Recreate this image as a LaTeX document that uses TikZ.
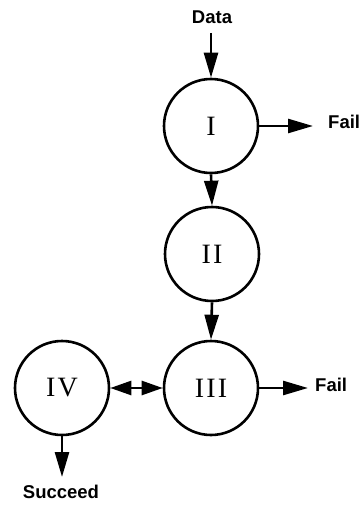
\documentclass[tikz,border=0pt]{standalone}
\usepackage{fontspec}
\setmainfont{Liberation Serif}
\setsansfont{Liberation Sans}
\usetikzlibrary{arrows.meta}
\begin{document}
\begin{tikzpicture}[x=1pt,y=-1pt,
  state/.style={circle,draw,line width=2.6pt,minimum size=94pt,inner sep=0pt,
    font=\addfontfeatures{LetterSpace=8}\fontsize{28}{28}\selectfont},
  lbl/.style={font=\sffamily\bfseries\fontsize{18.5}{18.5}\selectfont,inner sep=0pt},
  flow/.style={line width=2.6pt,-{Triangle[length=25pt,width=14pt]}},
  both/.style={line width=2.6pt,{Triangle[length=21pt,width=14pt]}-{Triangle[length=21pt,width=14pt]}}]
\useasboundingbox (0,0) rectangle (363,505);
\node[state] (s1) at (211,126) {I};
\node[state] (s2) at (212,254) {II};
\node[state] (s3) at (211,388) {III};
\node[state] (s4) at (62,388) {IV};
\node[lbl] (data) at (212,17) {Data};
\node[lbl,anchor=west] (f1) at (328,122) {Fail};
\node[lbl,anchor=west] (f3) at (315,385) {Fail};
\node[lbl] (succ) at (61,492) {Succeed};
\coordinate (dtop) at (211,33);
\coordinate (sbot) at (62,477);
\coordinate (f1end) at (313,126);
\coordinate (f3end) at (308,388);
\draw[flow] (dtop) -- (s1.north);
\draw[flow] (s1.east) -- (f1end);
\draw[flow] (s1.south) -- (s2.north);
\draw[flow] (s2.south) -- (s3.north);
\draw[flow] (s3.east) -- (f3end);
\draw[both] (s4.east) -- (s3.west);
\draw[flow] (s4.south) -- (sbot);
\end{tikzpicture}
\end{document}
